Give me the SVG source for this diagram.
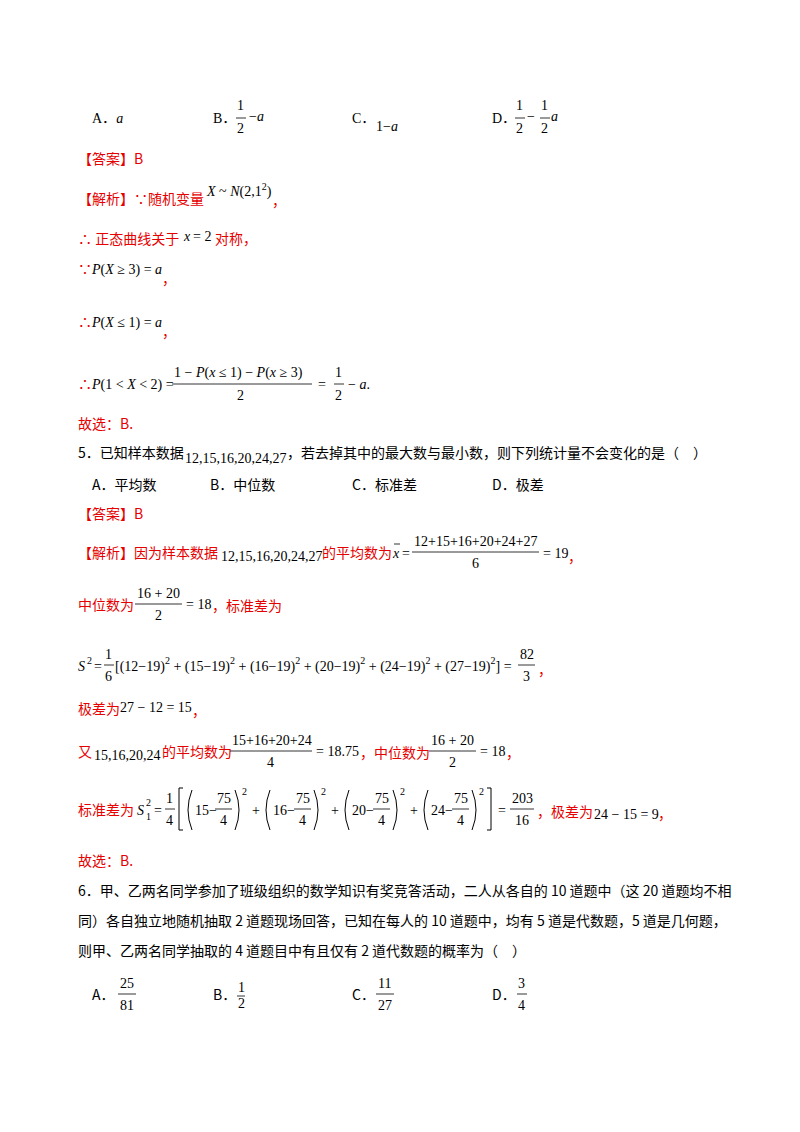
<svg xmlns="http://www.w3.org/2000/svg" width="800" height="1132" viewBox="0 0 800 1132">
<style>
text{font-family:"Liberation Serif","Noto Sans CJK SC",serif;font-size:14px;fill:#000}
.r{fill:#e60000}
.c{font-family:"Noto Sans CJK SC","Liberation Serif",serif}
.i{font-style:italic}
.s{font-size:10px}
line{stroke:#000;stroke-width:0.8}
.p{fill:none;stroke:#000;stroke-width:1}
</style>
<rect width="800" height="1132" fill="#fff"/>
<text x="92" y="123">A．<tspan class="i">a</tspan></text>
<text x="213" y="123">B．</text>
<text x="237" y="110">1</text><line x1="236" y1="118" x2="246" y2="118"/><text x="237" y="133">2</text>
<text x="249" y="121">−<tspan class="i">a</tspan></text>
<text x="352" y="123">C．</text><text x="376" y="131">1−<tspan class="i">a</tspan></text>
<text x="492" y="123">D．</text>
<text x="516" y="110">1</text><line x1="515" y1="118" x2="525" y2="118"/><text x="516" y="133">2</text>
<text x="527" y="121">−</text>
<text x="541" y="110">1</text><line x1="540" y1="118" x2="550" y2="118"/><text x="541" y="133">2</text>
<text x="551" y="121" class="i">a</text>

<text x="78" y="164" class="r c">【答案】B</text>
<text x="78" y="204" class="r c">【解析】∵随机变量</text>
<text x="207" y="196"><tspan class="i">X</tspan> ~ <tspan class="i">N</tspan>(2,1<tspan class="s" dy="-6">2</tspan><tspan dy="6">)</tspan></text>
<text x="272" y="206" class="r">，</text>
<text x="78" y="244" class="r c">∴ 正态曲线关于</text><text x="184" y="241" class="i">x</text><text x="193" y="241">= 2</text><text x="215" y="244" class="r c">对称，</text>
<text x="78" y="274" class="r">∵</text><text x="92" y="274"><tspan class="i">P</tspan>(<tspan class="i">X</tspan> ≥ 3) = <tspan class="i">a</tspan></text><text x="162" y="284" class="r">，</text>
<text x="78" y="327" class="r">∴</text><text x="92" y="327"><tspan class="i">P</tspan>(<tspan class="i">X</tspan> ≤ 1) = <tspan class="i">a</tspan></text><text x="162" y="337" class="r">，</text>
<text x="78" y="389" class="r">∴</text><text x="92" y="389"><tspan class="i">P</tspan>(1 &lt; <tspan class="i">X</tspan> &lt; 2) =</text>
<text x="174" y="377">1 − <tspan class="i">P</tspan>(<tspan class="i">x</tspan> ≤ 1) − <tspan class="i">P</tspan>(<tspan class="i">x</tspan> ≥ 3)</text>
<line x1="172" y1="384" x2="312" y2="384"/><text x="237" y="400">2</text>
<text x="318" y="389">=</text>
<text x="335" y="377">1</text><line x1="334" y1="384" x2="344" y2="384"/><text x="335" y="400">2</text>
<text x="348" y="389">− <tspan class="i">a</tspan>.</text>
<text x="78" y="429" class="r c">故选：B.</text>

<text x="78" y="458" class="c">5．已知样本数据</text><text x="185" y="463">12,15,16,20,24,27</text><text x="287" y="458" class="c">，若去掉其中的最大数与最小数，则下列统计量不会变化的是（　）</text>
<text x="92" y="490" class="c">A．平均数</text><text x="210" y="490" class="c">B．中位数</text><text x="352" y="490" class="c">C．标准差</text><text x="492" y="490" class="c">D．极差</text>
<text x="78" y="519" class="r c">【答案】B</text>
<text x="78" y="558" class="r c">【解析】因为样本数据</text><text x="221" y="561">12,15,16,20,24,27</text><text x="322" y="558" class="r c">的平均数为</text>
<text x="393" y="558" class="i">x</text><line x1="394" y1="544" x2="400" y2="544"/><text x="402" y="558">=</text>
<text x="414" y="546">12+15+16+20+24+27</text><line x1="412" y1="552" x2="539" y2="552"/><text x="472" y="568">6</text>
<text x="543" y="558">= 19</text><text x="568" y="562" class="r">，</text>
<text x="78" y="610" class="r c">中位数为</text>
<text x="137" y="598">16 + 20</text><line x1="135" y1="604" x2="182" y2="604"/><text x="155" y="620">2</text>
<text x="186" y="609">= 18</text><text x="212" y="611" class="r c">，标准差为</text>
<text x="78" y="671" class="i">S</text><text x="87" y="664" class="s">2</text><text x="94" y="671">=</text>
<text x="105" y="659">1</text><line x1="104" y1="665" x2="114" y2="665"/><text x="105" y="681">6</text>
<text x="115" y="671">[(12−19)<tspan class="s" dy="-7">2</tspan><tspan dy="7"> + (15−19)</tspan><tspan class="s" dy="-7">2</tspan><tspan dy="7"> + (16−19)</tspan><tspan class="s" dy="-7">2</tspan><tspan dy="7"> + (20−19)</tspan><tspan class="s" dy="-7">2</tspan><tspan dy="7"> + (24−19)</tspan><tspan class="s" dy="-7">2</tspan><tspan dy="7"> + (27−19)</tspan><tspan class="s" dy="-7">2</tspan><tspan dy="7">] =</tspan></text>
<text x="520" y="659">82</text><line x1="518" y1="665" x2="535" y2="665"/><text x="523" y="681">3</text>
<text x="538" y="675" class="r">，</text>
<text x="78" y="714" class="r c">极差为</text><text x="120" y="712">27 − 12 = 15</text><text x="192" y="716" class="r">，</text>
<text x="78" y="757" class="r c">又</text><text x="94" y="760">15,16,20,24</text><text x="162" y="757" class="r c">的平均数为</text>
<text x="232" y="745">15+16+20+24</text><line x1="230" y1="751" x2="312" y2="751"/><text x="267" y="767">4</text>
<text x="316" y="756">= 18.75</text><text x="360" y="758" class="r c">，中位数为</text>
<text x="431" y="745">16 + 20</text><line x1="429" y1="751" x2="476" y2="751"/><text x="449" y="767">2</text>
<text x="480" y="756">= 18</text><text x="506" y="758" class="r">，</text>
<text x="78" y="815" class="r c">标准差为</text>
<g transform="translate(6,0)">
<text x="131" y="815" class="i">S</text><text x="140" y="820" class="s">1</text><text x="140" y="806" class="s">2</text><text x="148" y="815">=</text>
<text x="160" y="803">1</text><line x1="159" y1="809" x2="169" y2="809"/><text x="160" y="825">4</text>
<path class="p" d="M177 788 h-4 v42 h4"/>
<path class="p" d="M186 790 q-8 20 0 40"/><text x="189" y="815">15−</text>
<text x="211" y="803">75</text><line x1="209" y1="809" x2="226" y2="809"/><text x="214" y="825">4</text>
<path class="p" d="M229 790 q8 20 0 40"/><text x="236" y="795" class="s">2</text>
<text x="246" y="815">+</text>
<path class="p" d="M264 790 q-8 20 0 40"/><text x="267" y="815">16−</text>
<text x="290" y="803">75</text><line x1="288" y1="809" x2="305" y2="809"/><text x="293" y="825">4</text>
<path class="p" d="M308 790 q8 20 0 40"/><text x="315" y="795" class="s">2</text>
<text x="325" y="815">+</text>
<path class="p" d="M343 790 q-8 20 0 40"/><text x="346" y="815">20−</text>
<text x="369" y="803">75</text><line x1="367" y1="809" x2="384" y2="809"/><text x="372" y="825">4</text>
<path class="p" d="M387 790 q8 20 0 40"/><text x="394" y="795" class="s">2</text>
<text x="404" y="815">+</text>
<path class="p" d="M422 790 q-8 20 0 40"/><text x="425" y="815">24−</text>
<text x="448" y="803">75</text><line x1="446" y1="809" x2="463" y2="809"/><text x="451" y="825">4</text>
<path class="p" d="M466 790 q8 20 0 40"/><text x="473" y="795" class="s">2</text>
<path class="p" d="M481 788 h4 v42 h-4"/>
<text x="492" y="815">=</text>
<text x="506" y="803">203</text><line x1="504" y1="809" x2="528" y2="809"/><text x="509" y="825">16</text>
<text x="531" y="817" class="r c">，极差为</text><text x="588" y="819">24 − 15 = 9</text><text x="652" y="819" class="r">，</text>
</g>
<text x="78" y="866" class="r c">故选：B.</text>

<text x="78" y="896" class="c">6．甲、乙两名同学参加了班级组织的数学知识有奖竞答活动，二人从各自的 10 道题中（这 20 道题均不相</text>
<text x="78" y="926" class="c">同）各自独立地随机抽取 2 道题现场回答，已知在每人的 10 道题中，均有 5 道是代数题，5 道是几何题，</text>
<text x="78" y="956" class="c">则甲、乙两名同学抽取的 4 道题目中有且仅有 2 道代数题的概率为（　）</text>
<text x="92" y="1000" class="c">A．</text>
<text x="120" y="988">25</text><line x1="118" y1="994" x2="136" y2="994"/><text x="120" y="1010">81</text>
<text x="213" y="1000" class="c">B．</text>
<text x="238" y="992" font-size="11">1</text><line x1="237" y1="996" x2="245" y2="996"/><text x="238" y="1008" font-size="11">2</text>
<text x="352" y="1000" class="c">C．</text>
<text x="378" y="988">11</text><line x1="376" y1="994" x2="394" y2="994"/><text x="378" y="1010">27</text>
<text x="492" y="1000" class="c">D．</text>
<text x="518" y="988">3</text><line x1="517" y1="994" x2="527" y2="994"/><text x="518" y="1010">4</text>
</svg>
